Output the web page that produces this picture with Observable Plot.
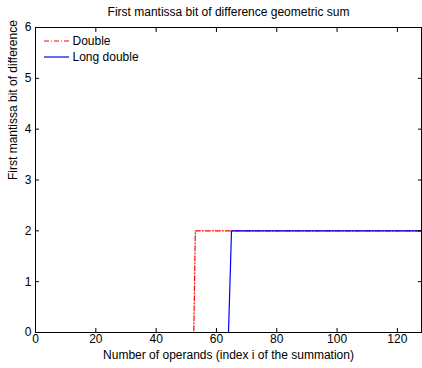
<!DOCTYPE html>
<html><head><meta charset="utf-8">
<script src="https://cdn.jsdelivr.net/npm/d3@7"></script>
<script src="https://cdn.jsdelivr.net/npm/@observablehq/plot@0.6"></script>
<style>body{margin:0;background:#fff}</style>
</head><body><div id="chart"></div>
<script>
const seriesNames = ["Double", "Long double"];
const seriesColors = ["#ff0000", "#0000ff"];
const doubleX = [0, 52.5, 53, 128];
const doubleY = [0, 0, 2, 2];
const longX = [0, 64, 65, 128];
const longY = [0, 0, 2, 2];
const xTicks = [0, 20, 40, 60, 80, 100, 120];
const yTicks = [0, 1, 2, 3, 4, 5, 6];
const titleText = "First mantissa bit of difference geometric sum";
const xLabel = "Number of operands (index i of the summation)";
const yLabel = "First mantissa bit of difference";

const dbl = doubleX.map((x, i) => ({x, y: doubleY[i]}));
const lng = longX.map((x, i) => ({x, y: longY[i]}));
const font = "'Liberation Sans', Arial, Helvetica, sans-serif";
const dash = "5,2,1,2";
const fmt = d => String(d);

const chart = Plot.plot({
  width: 422, height: 368,
  marginLeft: 35, marginRight: 1, marginTop: 27, marginBottom: 36,
  style: {fontFamily: font, fontSize: "12px", color: "#000", background: "#fff", overflow: "visible"},
  x: {domain: [0, 128]},
  y: {domain: [0, 6]},
  marks: [
    Plot.line(dbl, {x: "x", y: "y", stroke: seriesColors[0], strokeWidth: 1.2, strokeDasharray: dash}),
    Plot.line(lng, {x: "x", y: "y", stroke: seriesColors[1], strokeWidth: 1.2}),
    Plot.frame({stroke: "#000", strokeWidth: 1}),
    Plot.axisX(xTicks, {anchor: "bottom", tickSize: -4, text: null, label: null, stroke: "#000"}),
    Plot.axisX(xTicks, {anchor: "top", tickSize: -4, text: null, label: null, stroke: "#000"}),
    Plot.axisX(xTicks, {anchor: "bottom", tickSize: 0, tickPadding: 2, tickFormat: fmt, label: null, fontSize: 12, fill: "#000"}),
    Plot.axisY(yTicks, {anchor: "left", tickSize: -4, text: null, label: null, stroke: "#000"}),
    Plot.axisY(yTicks, {anchor: "right", tickSize: -4, text: null, label: null, stroke: "#000"}),
    Plot.axisY(yTicks, {anchor: "left", tickSize: 0, tickPadding: 4, tickFormat: fmt, label: null, fontSize: 12, fill: "#000"}),
    Plot.text([titleText], {frameAnchor: "top", dy: -15, lineAnchor: "middle", fontSize: 12, fill: "#000"}),
    Plot.text([xLabel], {frameAnchor: "bottom", dy: 23, lineAnchor: "middle", fontSize: 12, fill: "#000"}),
    Plot.text([yLabel], {frameAnchor: "left", dx: -22, rotate: -90, lineAnchor: "middle", fontSize: 12, fill: "#000"}),
    Plot.text([seriesNames[0]], {frameAnchor: "top-left", dx: 37, dy: 14, textAnchor: "start", lineAnchor: "middle", fontSize: 12, fill: "#000"}),
    Plot.text([seriesNames[1]], {frameAnchor: "top-left", dx: 37, dy: 30, textAnchor: "start", lineAnchor: "middle", fontSize: 12, fill: "#000"})
  ]
});

// Legend line samples
const svg = d3.select(chart);
seriesNames.forEach((name, i) => {
  svg.append("line")
    .attr("x1", 44).attr("x2", 69)
    .attr("y1", 41 + i * 16).attr("y2", 41 + i * 16)
    .attr("stroke", seriesColors[i]).attr("stroke-width", 1.2)
    .attr("stroke-dasharray", i === 0 ? dash : null);
});
document.getElementById("chart").appendChild(chart);
</script>
</body></html>
